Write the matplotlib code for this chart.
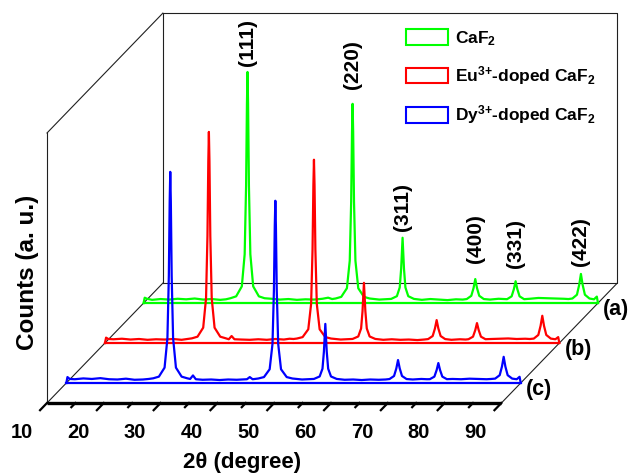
import matplotlib
matplotlib.use('Agg')
import matplotlib.pyplot as plt
from matplotlib.patches import Patch
import numpy as np

plt.rcParams['font.family'] = ['Liberation Sans', 'DejaVu Sans']
plt.rcParams['font.weight'] = 'bold'
plt.rcParams['mathtext.fontset'] = 'custom'
plt.rcParams['mathtext.rm'] = 'Liberation Sans:bold'
plt.rcParams['mathtext.it'] = 'Liberation Sans:bold'
plt.rcParams['mathtext.bf'] = 'Liberation Sans:bold'

# --- data (2theta in degree, counts in a.u. above each baseline) ---
theta_a = [10.0, 10.2, 10.6, 11.5, 13.0, 14.5, 16.0, 17.5, 19.0, 20.5, 22.0, 23.5, 24.5,
           25.3, 26.3, 27.3, 27.8, 28.05, 28.2, 28.3, 28.4, 28.55, 28.8, 29.3, 30.3, 31.3,
           32.5, 34.0, 35.5, 37.0, 38.5, 40.0, 41.5, 42.5, 43.2,
           43.8, 44.8, 45.8, 46.3, 46.55, 46.7, 46.8, 46.9, 47.05, 47.3, 47.8, 48.8, 49.8,
           51.5,
           53.6, 54.6, 55.1, 55.35, 55.6, 55.85, 56.1, 56.6, 57.6,
           59.0, 60.5, 62.0, 63.5, 65.0, 66.2,
           66.9, 67.7, 68.1, 68.4, 68.7, 69.1, 69.9,
           71.0, 72.5, 73.5,
           74.0, 74.8, 75.2, 75.5, 75.8, 76.2, 77.0,
           78.0, 79.5, 81.0, 82.5, 84.0, 84.8,
           85.5, 86.3, 86.7, 87.0, 87.3, 87.7, 88.5,
           89.3, 89.8, 90.0]
counts_a = [0.0, 2.0, 1.6, 1.2, 1.5, 1.3, 1.6, 1.4, 1.7, 1.3, 1.5, 1.2, 1.4,
            1.8, 2.5, 6.2, 18.1, 43.4, 73.8, 85.6, 73.8, 43.4, 18.1, 6.2, 2.5, 1.8,
            1.6, 1.3, 1.5, 1.2, 1.4, 1.3, 1.6, 2.0, 1.5,
            1.7, 2.3, 5.5, 15.7, 37.5, 63.6, 73.8, 63.6, 37.5, 15.7, 5.5, 2.3, 1.7,
            1.3,
            1.55, 2.56, 5.8, 12.7, 24.2, 12.7, 5.8, 2.56, 1.55,
            1.2, 1.5, 1.3, 1.1, 1.4, 1.3,
            1.5, 2.7, 5.6, 8.9, 5.6, 2.7, 1.5,
            1.3, 1.6, 1.5,
            1.45, 2.5, 5.2, 8.1, 5.2, 2.5, 1.45,
            1.6, 1.9, 1.8, 1.7, 1.6, 1.5,
            1.7, 3.1, 6.8, 10.8, 6.8, 3.1, 1.7,
            1.4, 2.4, 0.0]

theta_b = [10.0, 10.2, 10.6, 11.5, 13.0, 14.5, 16.0, 17.5, 19.0, 20.5, 22.0, 23.5, 24.5,
           25.3, 26.3, 27.3, 27.8, 28.05, 28.2, 28.3, 28.4, 28.55, 28.8, 29.3, 30.3, 31.3,
           31.8, 32.3, 32.8, 34.0, 35.5, 37.0, 38.5, 40.0, 41.5, 42.5, 43.2,
           43.8, 44.8, 45.8, 46.3, 46.55, 46.7, 46.8, 46.9, 47.05, 47.3, 47.8, 48.8, 49.8,
           51.5,
           53.6, 54.6, 55.1, 55.35, 55.6, 55.85, 56.1, 56.6, 57.6,
           59.0, 60.5, 62.0, 63.5, 65.0, 66.2,
           66.9, 67.7, 68.1, 68.4, 68.7, 69.1, 69.9,
           71.0, 72.5, 73.5,
           74.0, 74.8, 75.2, 75.5, 75.8, 76.2, 77.0,
           78.0, 79.5, 81.0, 82.5, 84.0, 84.8,
           85.5, 86.3, 86.7, 87.0, 87.3, 87.7, 88.5,
           89.3, 89.8, 90.0]
counts_b = [0.0, 2.0, 1.5, 1.4, 1.6, 1.3, 1.5, 1.2, 1.4, 1.3, 1.5, 1.2, 1.5,
            1.74, 2.36, 5.7, 16.6, 39.7, 67.4, 78.2, 67.4, 39.7, 16.6, 5.7, 2.36, 1.74,
            1.4, 2.6, 1.4, 1.3, 1.2, 1.4, 1.2, 1.5, 1.3, 1.6, 1.5,
            1.67, 2.2, 5.1, 14.5, 34.6, 58.6, 67.9, 58.6, 34.6, 14.5, 5.1, 2.2, 1.67,
            1.3,
            1.52, 2.44, 5.4, 11.8, 22.3, 11.8, 5.4, 2.44, 1.52,
            1.2, 1.4, 1.2, 1.3, 1.1, 1.3,
            1.47, 2.6, 5.4, 8.5, 5.4, 2.6, 1.47,
            1.2, 1.4, 1.3,
            1.42, 2.36, 4.8, 7.4, 4.8, 2.36, 1.42,
            1.5, 1.6, 1.7, 1.5, 1.6, 1.5,
            1.65, 3.0, 6.4, 10.1, 6.4, 3.0, 1.65,
            1.4, 2.2, 0.0]

theta_c = [10.0, 10.2, 10.6, 11.5, 13.0, 14.5, 16.0, 17.5, 19.0, 20.5, 22.0, 23.5, 24.5,
           25.3, 26.3, 27.3, 27.8, 28.05, 28.2, 28.3, 28.4, 28.55, 28.8, 29.3, 30.3, 31.3,
           31.8, 32.3, 32.8, 34.0, 35.5, 37.0, 38.5, 40.0, 41.8, 42.3, 42.8, 43.2,
           43.8, 44.8, 45.8, 46.3, 46.55, 46.7, 46.8, 46.9, 47.05, 47.3, 47.8, 48.8, 49.8,
           51.5,
           53.6, 54.6, 55.1, 55.35, 55.6, 55.85, 56.1, 56.6, 57.6,
           59.0, 60.5, 62.0, 63.5, 65.0, 66.2,
           66.9, 67.7, 68.1, 68.4, 68.7, 69.1, 69.9,
           71.0, 72.5, 73.5,
           74.0, 74.8, 75.2, 75.5, 75.8, 76.2, 77.0,
           78.0, 79.5, 81.0, 82.5, 84.0, 84.8,
           85.5, 86.3, 86.7, 87.0, 87.3, 87.7, 88.5,
           89.3, 89.8, 90.0]
counts_c = [0.0, 2.2, 1.5, 1.4, 1.7, 1.5, 1.8, 1.4, 1.3, 1.6, 1.2, 1.3, 1.5,
            1.74, 2.36, 5.7, 16.6, 39.7, 67.4, 78.2, 67.4, 39.7, 16.6, 5.7, 2.36, 1.74,
            1.5, 2.8, 1.4, 1.2, 1.3, 1.1, 1.3, 1.2, 1.4, 2.2, 1.4, 1.5,
            1.67, 2.2, 5.1, 14.5, 34.4, 58.2, 67.5, 58.2, 34.4, 14.5, 5.1, 2.2, 1.67,
            1.3,
            1.51, 2.42, 5.3, 11.6, 21.9, 11.6, 5.3, 2.42, 1.51,
            1.2, 1.3, 1.1, 1.3, 1.2, 1.3,
            1.47, 2.6, 5.4, 8.5, 5.4, 2.6, 1.47,
            1.3, 1.5, 1.4,
            1.42, 2.36, 4.8, 7.4, 4.8, 2.36, 1.42,
            1.5, 1.4, 1.6, 1.5, 1.4, 1.5,
            1.63, 2.9, 6.1, 9.7, 6.1, 2.9, 1.63,
            1.4, 2.3, 0.0]

series_names = ['CaF$_2$', 'Eu$^{3{+}}$-doped CaF$_2$', 'Dy$^{3{+}}$-doped CaF$_2$']
series_tags = ['(a)', '(b)', '(c)']
hkl_labels = ['(111)', '(220)', '(311)', '(400)', '(331)', '(422)']
hkl_theta = [28.3, 46.8, 55.6, 68.4, 75.5, 87.0]
xtick_values = [10, 20, 30, 40, 50, 60, 70, 80, 90]

colors = ['#00ff00', '#ff0000', '#0000ff']
depth = [5 / 6, 1 / 2, 1 / 6]          # position of each trace inside the box
hkl_text_y = [87.8, 79.3, 26.7, 14.8, 13.0, 13.7]

# box geometry: back wall is shifted by (DX, DY) in data units
DX, DY = 20.4, 44.4
XMIN, XMAX, YTOP = 10, 90, 100

fig = plt.figure(figsize=(6.31, 4.74), dpi=100)
ax = fig.add_axes([0, 0, 1, 1])
ax.set_xlim(1.725, 1.725 + 631 / 5.68)
ax.set_ylim(-26.3, -26.3 + 474 / 2.7)
ax.axis('off')

frame = dict(color='#202020', lw=0.8, zorder=1)
# back wall
ax.plot(np.array([XMIN, XMIN, XMAX, XMAX, XMIN]) + DX,
        np.array([0, YTOP, YTOP, 0, 0]) + DY, **frame)
# left wall
ax.plot([XMIN, XMIN + DX], [YTOP, YTOP + DY], **frame)
ax.plot([XMIN, XMIN + DX], [0, DY], **frame)
ax.plot([XMIN, XMIN], [0, YTOP], **frame)
# right floor edge
ax.plot([XMAX, XMAX + DX], [0, DY], **frame)

# traces, back to front
traces = [(theta_a, counts_a), (theta_b, counts_b), (theta_c, counts_c)]
for (tt, cc), col, f in zip(traces, colors, depth):
    tt = np.asarray(tt) + DX * f
    cc = np.asarray(cc) + DY * f
    ax.plot([XMIN + DX * f, XMAX + DX * f], [DY * f, DY * f], color=col, lw=1.6, zorder=2)
    ax.plot(tt, cc, color=col, lw=1.6, zorder=2, solid_joinstyle='round')

for tag, f in zip(series_tags, depth):
    ax.text(XMAX + DX * f + 0.9, DY * f - 2.3, tag, ha='left', va='center', fontsize=15.5)

for lab, th, yy in zip(hkl_labels, hkl_theta, hkl_text_y):
    ax.text(th + DX * depth[0], yy + DY * depth[0], lab, rotation=90,
            ha='center', va='bottom', fontsize=15)

# front axis with slanted ticks
ax.plot([XMIN, XMAX], [0, 0], color='black', lw=2.4, zorder=5, solid_capstyle='butt')
for t in range(XMIN, XMAX + 1, 5):
    L = 0.06 if t % 10 == 0 else 0.035
    ax.plot([t, t - DX * L], [0, -DY * L], color='black', lw=1.6, zorder=5)
for t in xtick_values:
    ax.text(t - 4.5, -11.1, str(t), ha='center', va='center', fontsize=14.5)

ax.text(44.3, -22.2, '2θ (degree)', ha='center', va='center', fontsize=16)
ax.text(6.65, 48.5, 'Counts (a. u.)', rotation=90, ha='center', va='center', fontsize=17.5)

handles = [Patch(facecolor='white', edgecolor=c, linewidth=1.5) for c in colors]
ax.legend(handles, series_names, loc='upper left', bbox_to_anchor=(406 / 631, 1 - 29 / 474),
          bbox_transform=fig.transFigure, frameon=False, fontsize=12.5,
          handlelength=2.4, handleheight=1.0, handletextpad=0.4, labelspacing=0.95,
          borderpad=0, borderaxespad=0)

fig.savefig('out.png', dpi=100)
